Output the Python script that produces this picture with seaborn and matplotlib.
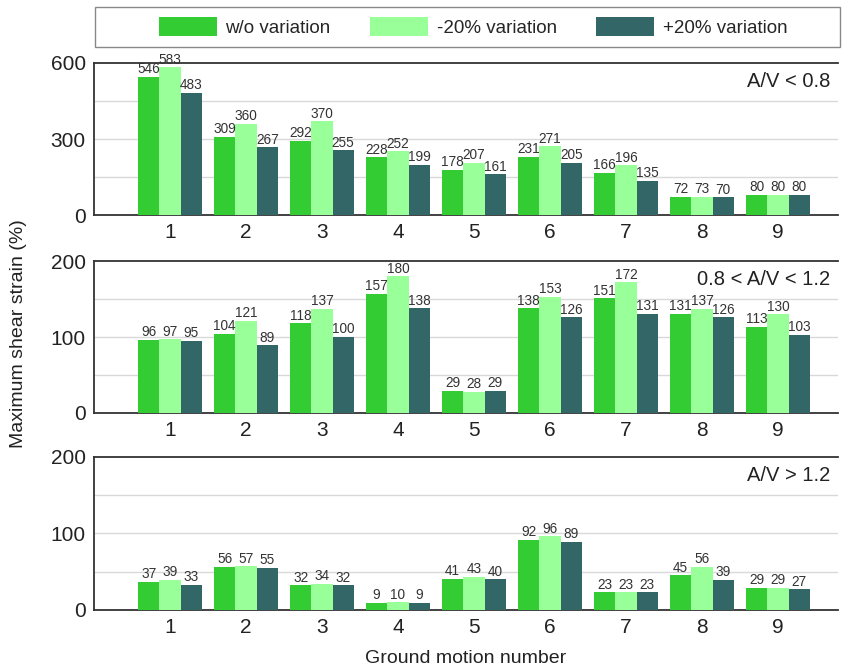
import matplotlib
matplotlib.use("Agg")
import matplotlib.pyplot as plt
import seaborn as sns
import pandas as pd
from matplotlib.patches import Patch, Rectangle

sns.set_theme(style="white")
plt.rcParams["font.family"] = ["Liberation Sans", "DejaVu Sans"]

motions = ["1", "2", "3", "4", "5", "6", "7", "8", "9"]
series = ["w/o variation", "-20% variation", "+20% variation"]
colors = ["#33CC33", "#99FF99", "#336666"]

# A/V < 0.8
low_wo = [546, 309, 292, 228, 178, 231, 166, 72, 80]
low_m20 = [583, 360, 370, 252, 207, 271, 196, 73, 80]
low_p20 = [483, 267, 255, 199, 161, 205, 135, 70, 80]

# 0.8 < A/V < 1.2
mid_wo = [96, 104, 118, 157, 29, 138, 151, 131, 113]
mid_m20 = [97, 121, 137, 180, 28, 153, 172, 137, 130]
mid_p20 = [95, 89, 100, 138, 29, 126, 131, 126, 103]

# A/V > 1.2
high_wo = [37, 56, 32, 9, 41, 92, 23, 45, 29]
high_m20 = [39, 57, 34, 10, 43, 96, 23, 56, 29]
high_p20 = [33, 55, 32, 9, 40, 89, 23, 39, 27]

panels = [
    ("A/V < 0.8", [low_wo, low_m20, low_p20], 600, [0, 300, 600], [150, 450]),
    ("0.8 < A/V < 1.2", [mid_wo, mid_m20, mid_p20], 200, [0, 100, 200], [50, 150]),
    ("A/V > 1.2", [high_wo, high_m20, high_p20], 200, [0, 100, 200], [50, 150]),
]

fig = plt.figure(figsize=(8.43, 6.68), dpi=100)
left, right = 0.1115, 0.994
boxes = [(0.678, 0.9057), (0.382, 0.609), (0.087, 0.316)]

axes = []
for (label, vals, ymax, yticks, minor), (b, t) in zip(panels, boxes):
    ax = fig.add_axes([left, b, right - left, t - b])
    rows = []
    for s, v in zip(series, vals):
        for m, val in zip(motions, v):
            rows.append({"motion": m, "series": s, "value": val})
    df = pd.DataFrame(rows)
    sns.barplot(data=df, x="motion", y="value", hue="series", order=motions,
                hue_order=series, palette=colors, width=0.84, gap=0,
                saturation=1, errorbar=None, ax=ax, legend=False,
                linewidth=0, zorder=3)
    for cont in ax.containers:
        ax.bar_label(cont, fmt="%d", padding=0.5, fontsize=9.8, color="#333333")
    ax.set_xlim(-1, 8.79)
    ax.set_ylim(0, ymax)
    ax.set_yticks(yticks)
    for g in minor + [yticks[1]]:
        ax.axhline(g, color="#d9d9d9", lw=1, zorder=0)
    ax.set_xlabel("")
    ax.set_ylabel("")
    ax.tick_params(axis="both", length=0, labelsize=15, colors="#222222", pad=6)
    for side in ["top", "bottom", "left"]:
        ax.spines[side].set_color("#333333")
        ax.spines[side].set_linewidth(1.3)
    ax.spines["right"].set_visible(False)
    ax.text(0.99, 0.88, label, transform=ax.transAxes, ha="right", va="center",
            fontsize=14.5, color="#222222")
    axes.append(ax)

axes[-1].set_xlabel("Ground motion number", fontsize=14, color="#222222", labelpad=9)
fig.text(0.022, 0.5, "Maximum shear strain (%)", rotation=90, ha="center",
         va="center", fontsize=14, color="#222222")

# legend box spanning the width above the panels
W, H = 843.0, 668.0
fig.patches.append(Rectangle((95 / W, 1 - 47 / H), (840 - 95) / W, 40 / H,
                             transform=fig.transFigure, facecolor="white",
                             edgecolor="#888888", linewidth=1.0, zorder=0))
handles = [Patch(facecolor=c, edgecolor="none") for c in colors]
leg = fig.legend(handles, series, loc="center", ncol=3,
                 bbox_to_anchor=(473 / W, 1 - 27 / H),
                 fontsize=13.5, handlelength=3.1, handleheight=1.12,
                 columnspacing=2.1, handletextpad=0.45, frameon=False)

fig.savefig("out.png", dpi=100)
